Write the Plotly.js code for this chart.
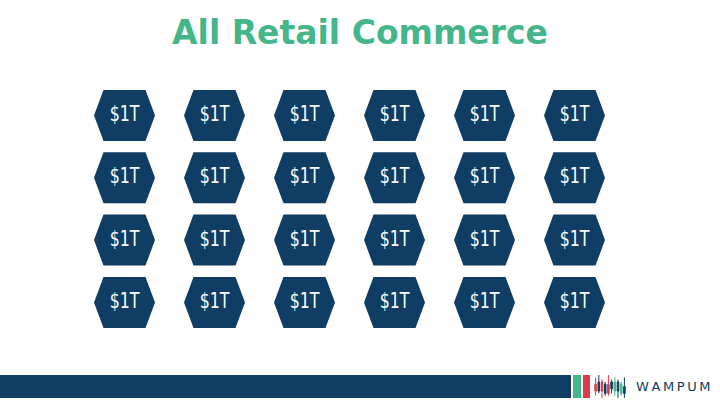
<!DOCTYPE html>
<html>
<head>
<meta charset="utf-8">
<script src="https://cdn.plot.ly/plotly-3.0.1.min.js"></script>
<style>
  html, body { margin: 0; padding: 0; background: #ffffff; }
  #chart { width: 720px; height: 405px; }
  /* the hexagon labels are set in a narrow face: squeeze them */
  #chart .textpoint text {
    transform-box: fill-box;
    transform-origin: center;
    transform: scaleX(0.72);
  }
</style>
</head>
<body>
<div id="chart"></div>
<script>
// grid of hexagons: 6 columns x 4 rows, each one worth $1T
const columns = [1, 2, 3, 4, 5, 6];
const rows = [1, 2, 3, 4];
const cell_label = "$1T";

// little candlestick icon of the logo
const logo_candles = [1, 3, 5, 7, 9];
const logo_open  = [6, 7, 6, 3, 2];
const logo_close = [3, 3, 2, 7, 6];
const logo_high  = [9, 8, 10, 9, 7];
const logo_low   = [1, 0, 1, 1, 1];
const logo_candles_b = [2, 4, 6, 8, 10];
const logo_open_b  = [3, 2, 4, 7, 5];
const logo_close_b = [7, 6, 7, 3, 2];
const logo_high_b  = [10, 7, 8, 8, 9];
const logo_low_b   = [2, 1, 2, 0, 0];

const navy = '#0f3d63';
const green = '#45b58a';
const red = '#e03a48';

// pixel scale of the grid axes
const px_x = 90;    // px per column
const px_y = 62.3;  // px per row
const hex_half_w = 30.5 / px_x;
const hex_half_top = 21 / px_x;
const hex_half_h = 25.5 / px_y;

let hex_x = [];
let hex_y = [];
let label_x = [];
let label_y = [];
let labels = [];

rows.forEach((r) => {
    columns.forEach((c) => {
        hex_x.push(c - hex_half_w, c - hex_half_top, c + hex_half_top, c + hex_half_w, c + hex_half_top, c - hex_half_top, c - hex_half_w, null);
        hex_y.push(r, r - hex_half_h, r - hex_half_h, r, r + hex_half_h, r + hex_half_h, r, null);
        label_x.push(c);
        label_y.push(r);
        labels.push(cell_label);
    });
});

const chart_data = [
    {
        x: hex_x,
        y: hex_y,
        mode: 'lines',
        fill: 'toself',
        fillcolor: navy,
        line: {color: navy, width: 0},
        hoverinfo: 'skip'
    },
    {
        x: label_x,
        y: label_y,
        mode: 'text',
        text: labels,
        textposition: 'middle center',
        textfont: {family: '"DejaVu Sans", sans-serif', size: 22, color: '#ffffff'},
        hoverinfo: 'skip'
    },
    {
        type: 'candlestick',
        x: logo_candles,
        open: logo_open,
        close: logo_close,
        high: logo_high,
        low: logo_low,
        xaxis: 'x2',
        yaxis: 'y2',
        increasing: {line: {color: green, width: 1}, fillcolor: green},
        decreasing: {line: {color: red, width: 1}, fillcolor: red},
        whiskerwidth: 0,
        hoverinfo: 'skip'
    },
    {
        type: 'candlestick',
        x: logo_candles_b,
        open: logo_open_b,
        close: logo_close_b,
        high: logo_high_b,
        low: logo_low_b,
        xaxis: 'x2',
        yaxis: 'y2',
        increasing: {line: {color: navy, width: 1}, fillcolor: navy},
        decreasing: {line: {color: navy, width: 1}, fillcolor: navy},
        whiskerwidth: 0,
        hoverinfo: 'skip'
    }
];

const chart_layout = {
    width: 720,
    height: 405,
    margin: {l: 0, r: 0, t: 0, b: 0},
    paper_bgcolor: '#ffffff',
    plot_bgcolor: '#ffffff',
    showlegend: false,
    title: {
        text: 'All Retail Commerce',
        font: {family: '"DejaVu Sans", sans-serif', size: 33, color: green, weight: 700},
        x: 0.5,
        xanchor: 'center',
        y: 1 - 32 / 405,
        yanchor: 'middle',
        yref: 'container'
    },
    xaxis: {
        range: [1 - 124.5 / px_x, 1 + (720 - 124.5) / px_x],
        visible: false,
        fixedrange: true
    },
    yaxis: {
        range: [1 + (405 - 115.5) / px_y, 1 - 115.5 / px_y],
        visible: false,
        fixedrange: true
    },
    xaxis2: {
        domain: [594 / 720, 626 / 720],
        anchor: 'y2',
        range: [0.5, 10.5],
        visible: false,
        rangeslider: {visible: false},
        fixedrange: true
    },
    yaxis2: {
        domain: [1 - 398 / 405, 1 - 375 / 405],
        anchor: 'x2',
        range: [0, 10],
        visible: false,
        fixedrange: true
    },
    shapes: [
        {type: 'rect', xref: 'paper', yref: 'paper', x0: 0, x1: 571 / 720, y0: 1 - 398 / 405, y1: 1 - 375 / 405, fillcolor: navy, line: {width: 0}, layer: 'below'},
        {type: 'rect', xref: 'paper', yref: 'paper', x0: 573 / 720, x1: 581 / 720, y0: 1 - 398 / 405, y1: 1 - 375 / 405, fillcolor: green, line: {width: 0}, layer: 'below'},
        {type: 'rect', xref: 'paper', yref: 'paper', x0: 583 / 720, x1: 590 / 720, y0: 1 - 398 / 405, y1: 1 - 375 / 405, fillcolor: red, line: {width: 0}, layer: 'below'}
    ],
    annotations: [
        {
            text: 'W\u2009A\u2009M\u2009P\u2009U\u2009M',
            xref: 'paper',
            yref: 'paper',
            x: 673 / 720,
            y: 1 - 386 / 405,
            xanchor: 'center',
            yanchor: 'middle',
            showarrow: false,
            font: {family: '"DejaVu Sans", sans-serif', size: 13, color: navy}
        }
    ]
};

Plotly.newPlot('chart', chart_data, chart_layout, {displayModeBar: false, staticPlot: true});
</script>
</body>
</html>
